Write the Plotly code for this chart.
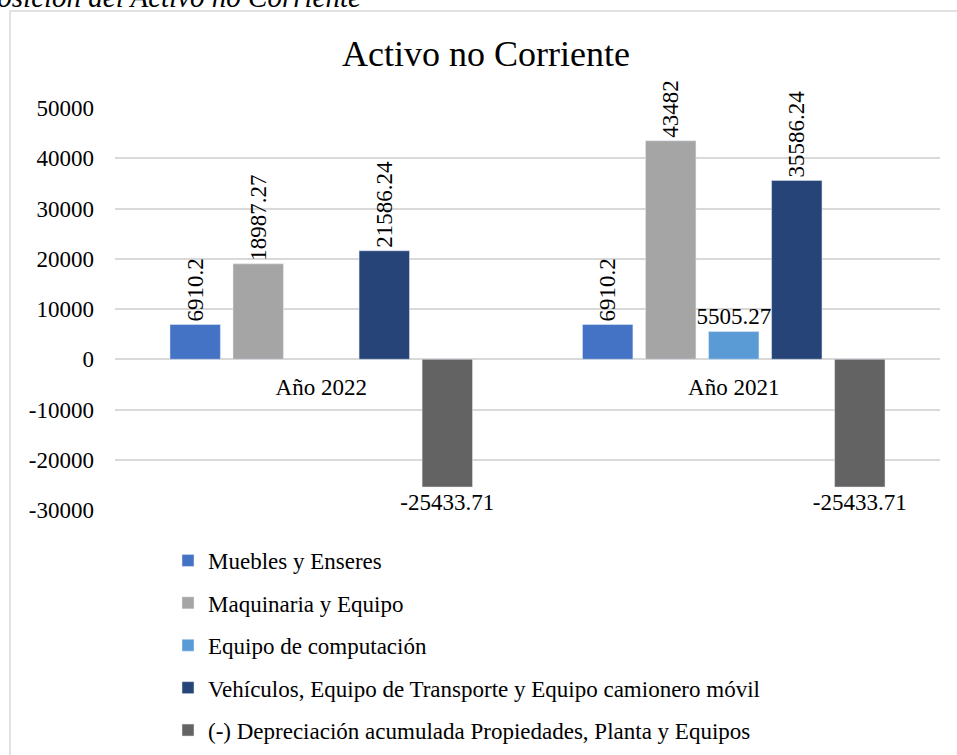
import plotly.graph_objects as go

categories = ["Año 2022", "Año 2021"]
series_names = [
    "Muebles y Enseres",
    "Maquinaria y Equipo",
    "Equipo de computación",
    "Vehículos, Equipo de Transporte y Equipo camionero móvil",
    "(-) Depreciación acumulada Propiedades, Planta y Equipos",
]
muebles = [6910.2, 6910.2]
maquinaria = [18987.27, 43482]
computacion = [None, 5505.27]
vehiculos = [21586.24, 35586.24]
depreciacion = [-25433.71, -25433.71]
y_ticks = [-30000, -20000, -10000, 0, 10000, 20000, 30000, 40000, 50000]

series_values = [muebles, maquinaria, computacion, vehiculos, depreciacion]
colors = ["#4472C4", "#A5A5A5", "#5B9BD5", "#264478", "#636363"]
angles = [-90, -90, 0, -90, 0]

FONT = "Liberation Serif"
W, H = 957, 755
# plot area in page pixels: x 115..940, y 108..510
PX0, PX1, PY0, PY1 = 115, 940, 108, 510
L = PX0
T = PY0
R = W - PX1
B = H - PY1
pw = PX1 - PX0
ph = PY1 - PY0


def px_x(p):
    return (p - PX0) / pw


def px_y(p):
    return (PY1 - p) / ph


def fmt(v):
    if v is None:
        return ""
    return f"{v:.2f}".rstrip("0").rstrip(".")


fig = go.Figure()
for name, vals, col, ang in zip(series_names, series_values, colors, angles):
    fig.add_trace(go.Bar(
        name=name, x=categories, y=vals, marker_color=col,
        text=[fmt(v) for v in vals],
        textposition="outside", textangle=ang, constraintext="none",
        cliponaxis=False, textfont=dict(family=FONT, size=23, color="#000000"),
        legendgroup=name,
    ))

fig.update_layout(
    width=W, height=H,
    margin=dict(l=L, r=R, t=T, b=B, autoexpand=False),
    paper_bgcolor="white", plot_bgcolor="white",
    barmode="group", bargap=0.236, bargroupgap=0.2,
    font=dict(family=FONT, size=23, color="#000000"),
    title=dict(text="Activo no Corriente", font=dict(family=FONT, size=36, color="#000000"),
               x=px_x(486), xref="paper", xanchor="center",
               y=1 - 53 / H, yref="container", yanchor="middle"),
    showlegend=True,
    legend=dict(orientation="v", x=px_x(168), xanchor="left", y=px_y(539), yanchor="top",
                font=dict(family=FONT, size=23, color="#000000"),
                tracegroupgap=9.5, bgcolor="rgba(0,0,0,0)"),
    xaxis=dict(anchor="free", position=30000 / 80000, showline=False, ticks="",
               showgrid=False, zeroline=False, ticklabelstandoff=12,
               tickfont=dict(family=FONT, size=23, color="#000000")),
    yaxis=dict(range=[-30000, 50000], tickvals=y_ticks, ticktext=[str(v) for v in y_ticks],
               showgrid=True, gridcolor="#D9D9D9", gridwidth=1.5,
               zeroline=True, zerolinecolor="#D9D9D9", zerolinewidth=1.5,
               showline=False, ticks="", ticklabelstandoff=20,
               tickfont=dict(family=FONT, size=23, color="#000000")),
    shapes=[dict(type="rect", xref="paper", yref="paper",
                 x0=px_x(10), x1=px_x(990), y0=px_y(790), y1=px_y(11),
                 line=dict(color="#D9D9D9", width=1.5), fillcolor="rgba(0,0,0,0)", layer="below")],
    annotations=[dict(text="<i>Composición del Activo no Corriente</i>", xref="paper", yref="paper",
                      x=px_x(363), xanchor="right", y=px_y(15), yanchor="bottom",
                      showarrow=False, font=dict(family=FONT, size=29, color="#000000"))],
)

fig.write_html("out.html", config={"displayModeBar": False},
               post_script="document.body.style.margin='0';")
